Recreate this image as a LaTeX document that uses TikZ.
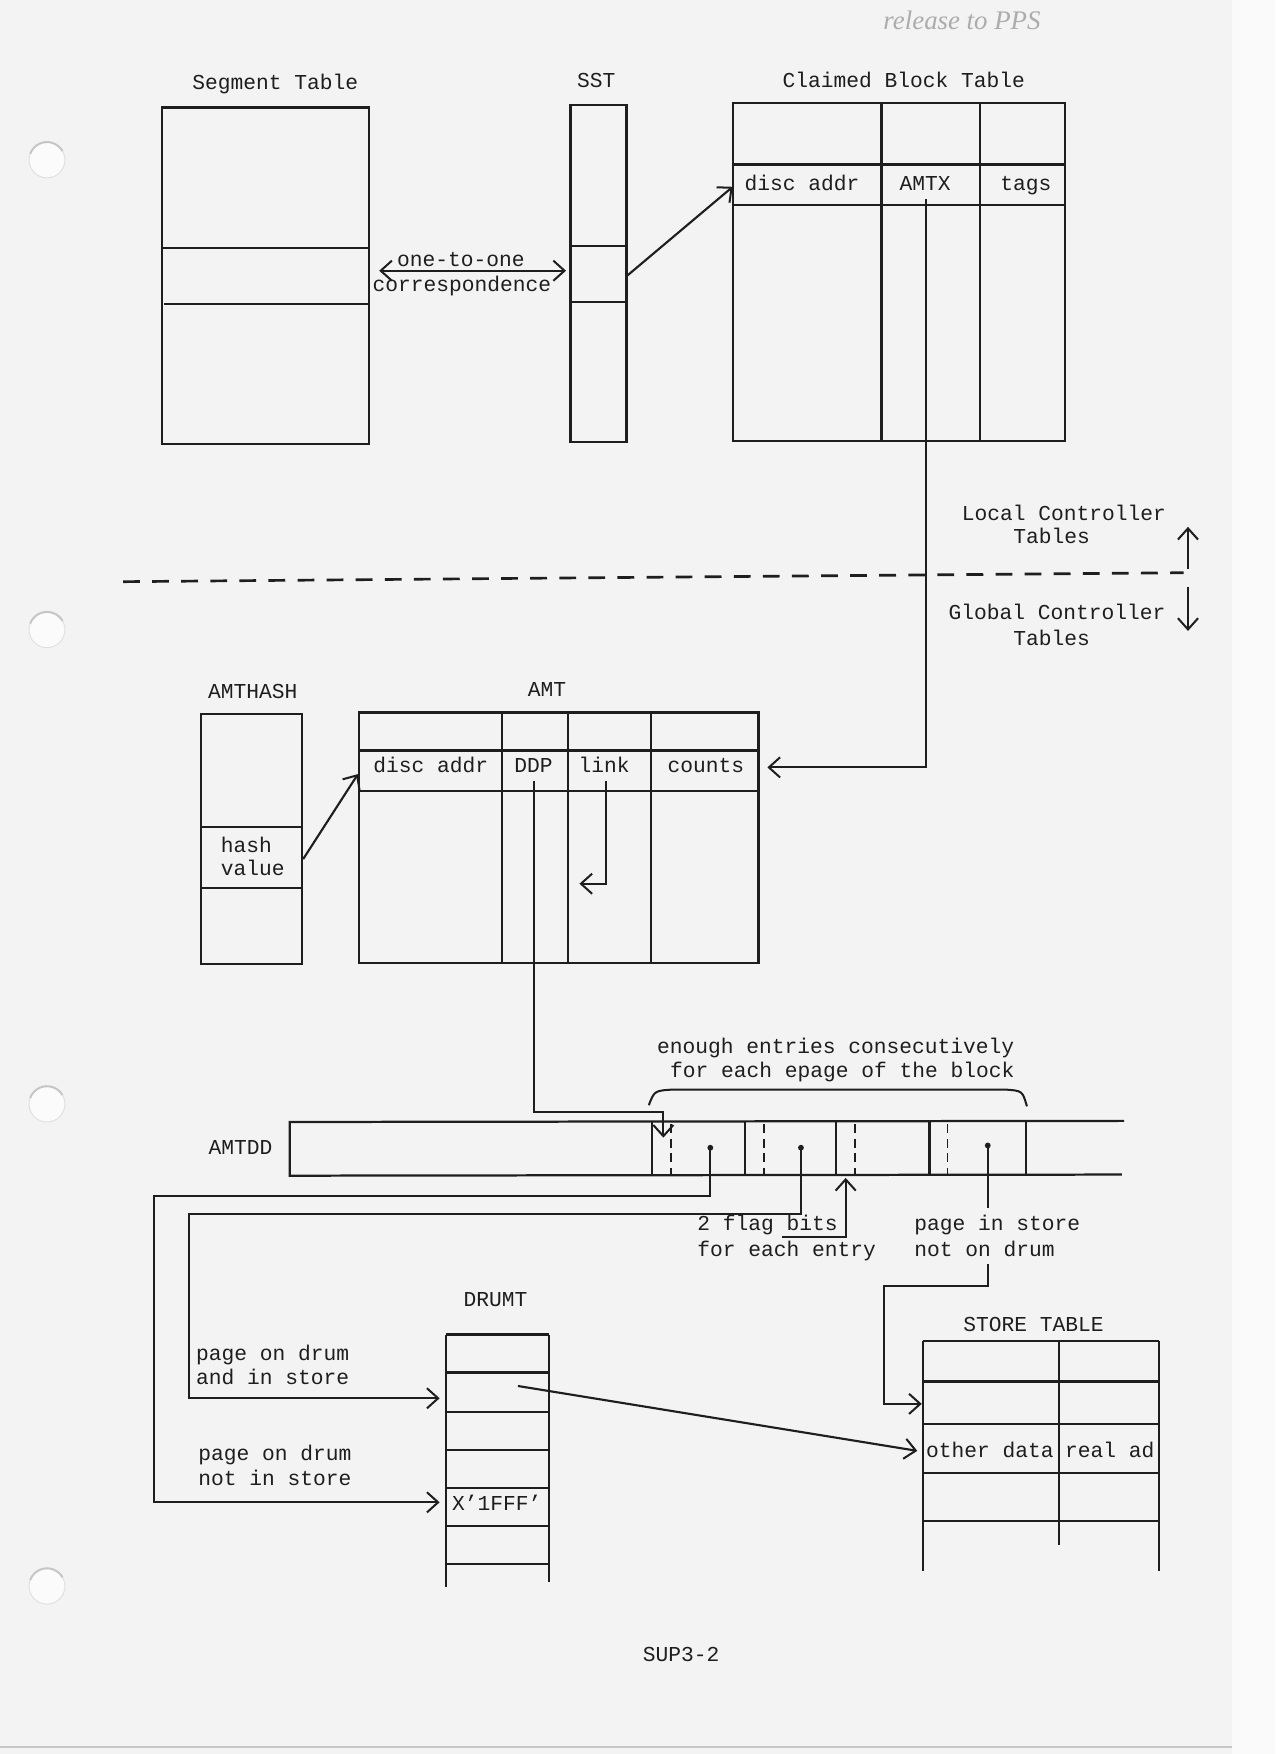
\documentclass[tikz,border=0pt]{standalone}
\usepackage{fontspec}
\setmainfont{Liberation Mono}
\newfontfamily\handfont{Liberation Serif}
\usetikzlibrary{arrows.meta,calc}
\definecolor{paper}{HTML}{F3F3F3}
\definecolor{ink}{HTML}{1E1E1E}
\begin{document}
\begin{tikzpicture}[x=0.5pt,y=-0.5pt,
  lbl/.style={inner sep=0pt, text height=5.5pt, text depth=0.5pt, text=ink, font=\fontsize{9.5}{11}\selectfont},
  tline/.style={draw=ink, line width=1pt},
  arr/.style={draw=ink, line width=0.95pt, -{Straight Barb[length=5pt,width=9pt,line width=0.9pt]}},
  darr/.style={draw=ink, line width=0.95pt, {Straight Barb[length=5pt,width=9pt,line width=0.9pt]}-{Straight Barb[length=5pt,width=9pt,line width=0.9pt]}},
  dsh/.style={draw=ink, line width=0.8pt, dash pattern=on 4pt off 2.5pt},
  hole/.style={draw=gray!25, fill=white!70!paper, line width=0.4pt},
]
\useasboundingbox (0,0) rectangle (1140,1568);
% paper
\fill[paper] (0,0) rectangle (1140,1568);
\fill[white!60!paper] (1101,0) rectangle (1140,1568);
\draw[gray!45, line width=1pt] (0,1562) -- (1101,1562);
% punch holes
\foreach \hy in {143,563,987,1418} {
  \draw[hole] (42,\hy) circle (16);
  \draw[gray!45, line width=0.9pt] (42,\hy) ++(200:16) arc (200:330:16);
}
% handwritten note
\node[text=gray!65, font=\handfont\itshape\fontsize{12}{14}\selectfont] (note) at (860,18) {release to PPS};

% ---------------- Segment Table ----------------
\node[lbl] (segT) at (246,75) {Segment Table};
\draw[tline] (145,96) rectangle (330,397);
\draw[tline] (145,222) -- (330,222) (147,272) -- (330,272);
\coordinate (oto-l) at (339,242);

% ---------------- SST ----------------
\node[lbl] (sstT) at (533,73) {SST};
\draw[tline] (510,94) rectangle (560,395);
\draw[tline] (510,220) -- (560,220) (510,270) -- (560,270);
\coordinate (oto-r) at (506,242);
\coordinate (sst-e) at (560,247);

\draw[darr] (oto-l) -- (oto-r);
\node[lbl] (oto1) at (412,233) {one-to-one};
\node[lbl] (oto2) at (413,256) {correspondence};

% ---------------- Claimed Block Table ----------------
\node[lbl] (cbtT) at (808,73) {Claimed Block Table};
\draw[tline] (655,92) rectangle (952,394);
\draw[tline] (655,147) -- (952,147) (655,183) -- (952,183);
\draw[tline] (788,92) -- (788,394) (876,92) -- (876,394);
\node[lbl] (cbt-da) at (717,165) {disc addr};
\node[lbl] (cbt-amtx) at (827,165) {AMTX};
\node[lbl] (cbt-tags) at (917,165) {tags};
\coordinate (cbt-w) at (655,167);
\draw[arr] (sst-e) -- (cbt-w);

% ---------------- Local / Global ----------------
\node[lbl] (loc1) at (951,460) {Local Controller};
\node[lbl] (loc2) at (940,481) {Tables};
\node[lbl] (glo1) at (945,549) {Global Controller};
\node[lbl] (glo2) at (940,572) {Tables};
\coordinate (up-s) at (1062,509);
\coordinate (up-e) at (1062,471);
\coordinate (dn-s) at (1062,525);
\coordinate (dn-e) at (1062,564);
\draw[arr] (up-s) -- (up-e);
\draw[arr] (dn-s) -- (dn-e);
\coordinate (dash-l) at (110,520);
\coordinate (dash-r) at (1058,512);
\draw[draw=ink, line width=1.2pt, dash pattern=on 7.5pt off 5.5pt] (dash-l) -- (dash-r);

% ---------------- AMTHASH ----------------
\node[lbl] (hashT) at (226,619) {AMTHASH};
\draw[tline] (180,638) rectangle (270,862);
\draw[tline] (180,739) -- (270,739) (180,794) -- (270,794);
\node[lbl, anchor=west] (hv1) at (197,757) {hash};
\node[lbl, anchor=west] (hv2) at (197,778) {value};
\coordinate (hash-e) at (271,768);

% ---------------- AMT ----------------
\node[lbl] (amtT) at (489,618) {AMT};
\draw[tline] (321,637) rectangle (678,861);
\draw[tline] (321,671) -- (678,671) (321,707) -- (678,707);
\draw[tline] (449,637) -- (449,861) (508,637) -- (508,861) (582,637) -- (582,861);
\node[lbl] (amt-da) at (385,686) {disc addr};
\node[lbl] (amt-ddp) at (477,686) {DDP};
\node[lbl] (amt-link) at (540,686) {link};
\node[lbl] (amt-counts) at (631,686) {counts};
\coordinate (amt-w) at (320,692);
\coordinate (amt-e) at (686,686);
\draw[arr] (hash-e) -- (amt-w);

% AMTX -> counts
\coordinate (amtx-s) at (828,178);
\coordinate (amtx-c) at (828,686);
\draw[arr] (amtx-s) -- (amtx-c) -- (amt-e);

% link arrow
\coordinate (link-s) at (542,698);
\coordinate (link-c) at (542,790);
\coordinate (link-e) at (518,790);
\draw[arr] (link-s) -- (link-c) -- (link-e);

% ---------------- AMTDD ----------------
\node[lbl] (amtddT) at (215,1027) {AMTDD};
\draw[tline] (1005,1002) -- (259,1003) -- (259,1051) -- (1003,1050);
\foreach \vx in {583,666,747,831,917} \draw[tline] (\vx,1003) -- (\vx,1050);
\foreach \vx in {600,683,764,847} \draw[dsh] (\vx,1005) -- (\vx,1050);
\coordinate (dot1) at (635,1026);
\coordinate (dot2) at (716,1026);
\coordinate (dot3) at (883,1024);
\foreach \d in {dot1,dot2,dot3} \fill[ink] (\d) circle (2.6);

% DDP -> AMTDD
\coordinate (ddp-s) at (477,698);
\coordinate (ddp-c1) at (477,994);
\coordinate (ddp-c2) at (593,994);
\coordinate (ddp-e) at (593,1017);
\draw[arr] (ddp-s) -- (ddp-c1) -- (ddp-c2) -- (ddp-e);

% brace
\draw[draw=ink, line width=0.9pt] (580,988) .. controls (585,975) .. (602,974) -- (898,974) .. controls (914,975) .. (918,989);
\node[lbl] (en1) at (747,937) {enough entries consecutively};
\node[lbl] (en2) at (753,958) {for each epage of the block};

% flag bits
\node[lbl, anchor=west] (fb1) at (623,1095) {2 flag bits};
\node[lbl, anchor=west] (fb2) at (623,1118) {for each entry};
\coordinate (fb-l) at (699,1106);
\coordinate (fb-c) at (756,1106);
\coordinate (fb-e) at (756,1053);
\draw[arr] (fb-l) -- (fb-c) -- (fb-e);

% page in store not on drum
\node[lbl, anchor=west] (ps1) at (817,1095) {page in store};
\node[lbl, anchor=west] (ps2) at (817,1118) {not on drum};
\draw[tline] (dot3) -- (883,1080);

% ---------------- DRUMT ----------------
\node[lbl] (drumT) at (443,1163) {DRUMT};
\draw[tline] (399,1193) -- (399,1419) (491,1193) -- (491,1414);
\foreach \hy in {1193,1227,1262,1296,1330,1364,1398} \draw[tline] (399,\hy) -- (491,\hy);
\node[lbl] (x1fff) at (444,1345) {X’1FFF’};
\coordinate (drum-2w) at (393,1250);
\coordinate (drum-5w) at (393,1343);
\coordinate (drum-2c) at (463,1239);

\node[lbl, anchor=west] (pd1) at (175,1211) {page on drum};
\node[lbl, anchor=west] (pd2) at (175,1233) {and in store};
\node[lbl, anchor=west] (pn1) at (177,1301) {page on drum};
\node[lbl, anchor=west] (pn2) at (177,1323) {not in store};

% dot1 -> not in store
\draw[arr] (dot1) -- (635,1069) -- (138,1069) -- (138,1343) -- (drum-5w);
% dot2 -> on drum and in store
\draw[arr] (dot2) -- (716,1085) -- (169,1085) -- (169,1250) -- (drum-2w);

% ---------------- STORE TABLE ----------------
\node[lbl] (storeT) at (924,1185) {STORE TABLE};
\draw[tline] (825,1199) -- (825,1404) (1036,1199) -- (1036,1404) (947,1199) -- (947,1381);
\foreach \hy in {1199,1235,1273,1317,1360} \draw[tline] (825,\hy) -- (1036,\hy);
\node[lbl] (od) at (885,1298) {other data};
\node[lbl] (ra) at (992,1298) {real ad};
\coordinate (st-od) at (820,1297);
\coordinate (st-2w) at (824,1255);

\draw[arr] (drum-2c) -- (st-od);
\coordinate (ps-s) at (883,1130);
\draw[arr] (ps-s) -- (883,1150) -- (790,1150) -- (790,1255) -- (st-2w);

% footer
\node[lbl] (foot) at (609,1480) {SUP3-2};
\end{tikzpicture}
\end{document}
